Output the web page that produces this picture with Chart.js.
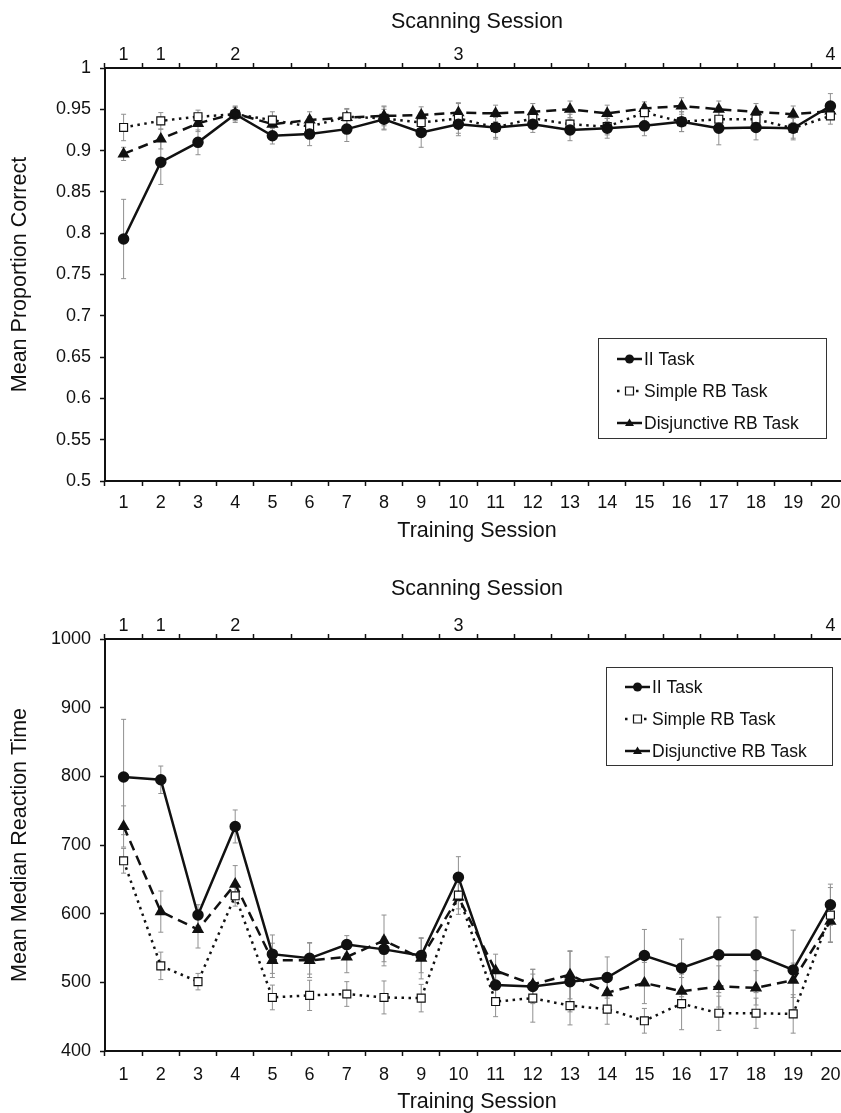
<!DOCTYPE html>
<html>
<head>
<meta charset="utf-8">
<script src="https://cdn.jsdelivr.net/npm/chart.js@4/dist/chart.umd.min.js"></script>
<style>
  html, body { margin: 0; background: #fff; overflow: hidden; width: 841px; height: 1113px; }
  canvas { position: absolute; left: 0; }
  #accuracyChart { top: 0; }
  #rtChart { top: 556px; }
</style>
</head>
<body>
<canvas id="accuracyChart" width="860" height="556"></canvas>
<canvas id="rtChart" width="860" height="557"></canvas>
<script>
const sessions = ['1', '2', '3', '4', '5', '6', '7', '8', '9', '10',
  '11', '12', '13', '14', '15', '16', '17', '18', '19', '20'];
const scanLabels = ['1', '1', '', '2', '', '', '', '', '', '3',
  '', '', '', '', '', '', '', '', '', '4'];

// accuracy (top panel)
const iiAcc = [0.793, 0.886, 0.910, 0.944, 0.918, 0.920, 0.926, 0.938, 0.922, 0.932,
  0.928, 0.932, 0.925, 0.927, 0.930, 0.935, 0.927, 0.928, 0.927, 0.954];
const iiAccErr = [0.048, 0.027, 0.015, 0.010, 0.010, 0.014, 0.015, 0.012, 0.018, 0.014,
  0.012, 0.010, 0.013, 0.012, 0.012, 0.012, 0.020, 0.015, 0.012, 0.015];
const simpleAcc = [0.928, 0.936, 0.941, 0.944, 0.937, 0.929, 0.941, 0.939, 0.934, 0.939,
  0.928, 0.939, 0.932, 0.929, 0.946, 0.935, 0.938, 0.938, 0.927, 0.942];
const simpleAccErr = [0.016, 0.010, 0.008, 0.008, 0.010, 0.012, 0.010, 0.014, 0.012, 0.018,
  0.014, 0.010, 0.012, 0.010, 0.010, 0.012, 0.012, 0.010, 0.014, 0.010];
const disjAcc = [0.896, 0.914, 0.933, 0.945, 0.932, 0.937, 0.940, 0.942, 0.943, 0.946,
  0.945, 0.947, 0.950, 0.945, 0.951, 0.954, 0.950, 0.947, 0.944, 0.948];
const disjAccErr = [0.008, 0.012, 0.010, 0.008, 0.010, 0.010, 0.010, 0.012, 0.010, 0.012,
  0.010, 0.010, 0.010, 0.010, 0.008, 0.010, 0.010, 0.010, 0.010, 0.010];

// reaction time (bottom panel)
const iiRt = [799, 795, 598, 727, 541, 535, 555, 548, 539, 653,
  496, 494, 501, 507, 539, 521, 540, 540, 518, 613];
const iiRtErr = [84, 20, 15, 24, 28, 23, 13, 18, 25, 30,
  22, 25, 44, 30, 38, 42, 55, 55, 58, 30];
const simpleRt = [677, 524, 501, 626, 478, 481, 483, 478, 477, 627,
  472, 477, 466, 461, 444, 469, 455, 455, 454, 598];
const simpleRtErr = [18, 20, 12, 15, 18, 22, 18, 24, 20, 20,
  22, 35, 28, 22, 18, 38, 25, 22, 28, 40];
const disjRt = [727, 603, 577, 643, 532, 532, 537, 561, 535, 624,
  517, 497, 511, 485, 499, 487, 494, 492, 503, 589];
const disjRtErr = [30, 30, 27, 27, 25, 25, 23, 37, 30, 25,
  24, 22, 35, 25, 30, 25, 30, 25, 25, 30];

const FAMILY = '"Liberation Sans", Arial, sans-serif';
const INK = '#111';

function drawMarker(ctx, style, x, y) {
  ctx.save();
  ctx.setLineDash([]);
  ctx.lineWidth = 1.2;
  ctx.strokeStyle = INK;
  ctx.beginPath();
  if (style === 'circle') {
    ctx.arc(x, y, 4.5, 0, Math.PI * 2);
    ctx.fillStyle = INK;
    ctx.fill();
  } else if (style === 'rect') {
    ctx.rect(x - 4, y - 4, 8, 8);
    ctx.fillStyle = '#fff';
    ctx.fill();
    ctx.stroke();
  } else {
    ctx.moveTo(x, y - 4.5);
    ctx.lineTo(x + 4.5, y + 3);
    ctx.lineTo(x - 4.5, y + 3);
    ctx.closePath();
    ctx.fillStyle = INK;
    ctx.fill();
  }
  ctx.restore();
}

const errorBars = {
  id: 'errorBars',
  beforeDatasetsDraw(chart) {
    const { ctx } = chart;
    const y = chart.scales.y;
    ctx.save();
    ctx.strokeStyle = '#909090';
    ctx.lineWidth = 1;
    chart.data.datasets.forEach((ds, i) => {
      chart.getDatasetMeta(i).data.forEach((pt, j) => {
        const top = y.getPixelForValue(ds.data[j] + ds.errors[j]);
        const bottom = y.getPixelForValue(ds.data[j] - ds.errors[j]);
        ctx.beginPath();
        ctx.moveTo(pt.x, top);
        ctx.lineTo(pt.x, bottom);
        ctx.moveTo(pt.x - 2.5, top);
        ctx.lineTo(pt.x + 2.5, top);
        ctx.moveTo(pt.x - 2.5, bottom);
        ctx.lineTo(pt.x + 2.5, bottom);
        ctx.stroke();
      });
    });
    ctx.restore();
  }
};

const boxLegend = {
  id: 'boxLegend',
  afterDraw(chart, args, opts) {
    const { ctx } = chart;
    ctx.save();
    ctx.fillStyle = '#fff';
    ctx.fillRect(opts.x, opts.y, opts.w, opts.h);
    ctx.strokeStyle = '#333';
    ctx.lineWidth = 1;
    ctx.strokeRect(opts.x + 0.5, opts.y + 0.5, opts.w, opts.h);
    ctx.font = '17.5px ' + FAMILY;
    ctx.textBaseline = 'middle';
    chart.data.datasets.forEach((ds, i) => {
      const cy = opts.y + opts.rowStart + i * opts.rowGap;
      const x0 = opts.x + opts.symbolX;
      const x1 = x0 + opts.symbolLen;
      ctx.beginPath();
      ctx.strokeStyle = INK;
      ctx.lineWidth = ds.borderWidth;
      ctx.setLineDash(ds.legendDash);
      ctx.moveTo(x0, cy);
      ctx.lineTo(x1, cy);
      ctx.stroke();
      drawMarker(ctx, ds.pointStyle, (x0 + x1) / 2, cy);
      ctx.fillStyle = INK;
      ctx.fillText(ds.label, x1 + 2, cy + 1);
    });
    ctx.restore();
  }
};

function makeDatasets(ii, iiErr, simple, simpleErr, disj, disjErr) {
  return [
    {
      label: 'II Task', data: ii, errors: iiErr,
      borderColor: INK, borderWidth: 2.5, legendDash: [],
      pointStyle: 'circle', pointRadius: 4.5,
      pointBackgroundColor: INK, pointBorderColor: INK
    },
    {
      label: 'Simple RB Task', data: simple, errors: simpleErr,
      borderColor: INK, borderWidth: 2.5, borderDash: [2.5, 4.5], legendDash: [2.5, 7],
      pointStyle: 'rect', pointRadius: 5.6, pointBorderWidth: 1.2,
      pointBackgroundColor: '#fff', pointBorderColor: INK
    },
    {
      label: 'Disjunctive RB Task', data: disj, errors: disjErr,
      borderColor: INK, borderWidth: 2.5, borderDash: [10, 6], legendDash: [],
      pointStyle: 'triangle', pointRadius: 4.6,
      pointBackgroundColor: INK, pointBorderColor: INK
    }
  ];
}

function axisGrid() {
  return { offset: true, drawOnChartArea: false, tickLength: 5, color: INK, tickWidth: 1.5 };
}

function makeScales(cfg) {
  const tickFont = { family: FAMILY, size: 18, lineHeight: 1 };
  const titleFont = { family: FAMILY, size: 21.5, lineHeight: 1 };
  return {
    x: {
      type: 'category', position: 'bottom', offset: true,
      grid: axisGrid(),
      border: { color: INK, width: 2 },
      ticks: { autoSkip: false, maxRotation: 0, padding: cfg.xPad, color: INK, font: tickFont },
      title: { display: true, text: 'Training Session', color: INK, font: titleFont,
        padding: { top: 0, bottom: cfg.xTitlePad } },
      afterFit: s => { s.height = cfg.bottomHeight; }
    },
    x2: {
      type: 'category', position: 'top', offset: true, labels: scanLabels,
      grid: axisGrid(),
      border: { color: INK, width: 2 },
      ticks: { autoSkip: false, maxRotation: 0, padding: cfg.x2Pad, color: INK, font: tickFont },
      title: { display: true, text: 'Scanning Session', color: INK, font: titleFont,
        padding: { top: cfg.x2TitlePad, bottom: 0 } },
      afterFit: s => { s.height = cfg.topHeight; }
    },
    y: {
      min: cfg.yMin, max: cfg.yMax,
      grid: { drawOnChartArea: false, tickLength: 5, color: INK, tickWidth: 1.5 },
      border: { color: INK, width: 2 },
      ticks: { stepSize: cfg.yStep, padding: 9, color: INK, font: tickFont,
        callback: v => String(+v.toFixed(2)) },
      title: { display: true, text: cfg.yTitle, color: INK, font: titleFont,
        padding: { top: 9.25, bottom: 0 } },
      afterFit: s => { s.width = 105; }
    }
  };
}

function makeChart(id, datasets, cfg, legendBox) {
  return new Chart(document.getElementById(id), {
    type: 'line',
    data: { labels: sessions, datasets: datasets },
    options: {
      responsive: false,
      animation: false,
      devicePixelRatio: 1,
      layout: { padding: { left: 0, right: 11, top: 0, bottom: 0 } },
      elements: { line: { tension: 0 } },
      plugins: {
        legend: { display: false },
        tooltip: { enabled: false },
        boxLegend: legendBox
      },
      scales: makeScales(cfg)
    },
    plugins: [errorBars, boxLegend]
  });
}

makeChart('accuracyChart',
  makeDatasets(iiAcc, iiAccErr, simpleAcc, simpleAccErr, disjAcc, disjAccErr),
  {
    yMin: 0.5, yMax: 1, yStep: 0.05, yTitle: 'Mean Proportion Correct',
    topHeight: 68, bottomHeight: 75,
    xPad: 8, x2Pad: -1, xTitlePad: 14.25, x2TitlePad: 11.25
  },
  { x: 598, y: 338, w: 228, h: 100, rowStart: 21, rowGap: 32, symbolX: 19, symbolLen: 25 }
);

makeChart('rtChart',
  makeDatasets(iiRt, iiRtErr, simpleRt, simpleRtErr, disjRt, disjRtErr),
  {
    yMin: 400, yMax: 1000, yStep: 100, yTitle: 'Mean Median Reaction Time',
    topHeight: 83, bottomHeight: 62,
    xPad: 10, x2Pad: -1.5, xTitlePad: 0, x2TitlePad: 22.25
  },
  { x: 606, y: 111, w: 226, h: 98, rowStart: 20, rowGap: 32, symbolX: 19, symbolLen: 25 }
);
</script>
</body>
</html>
